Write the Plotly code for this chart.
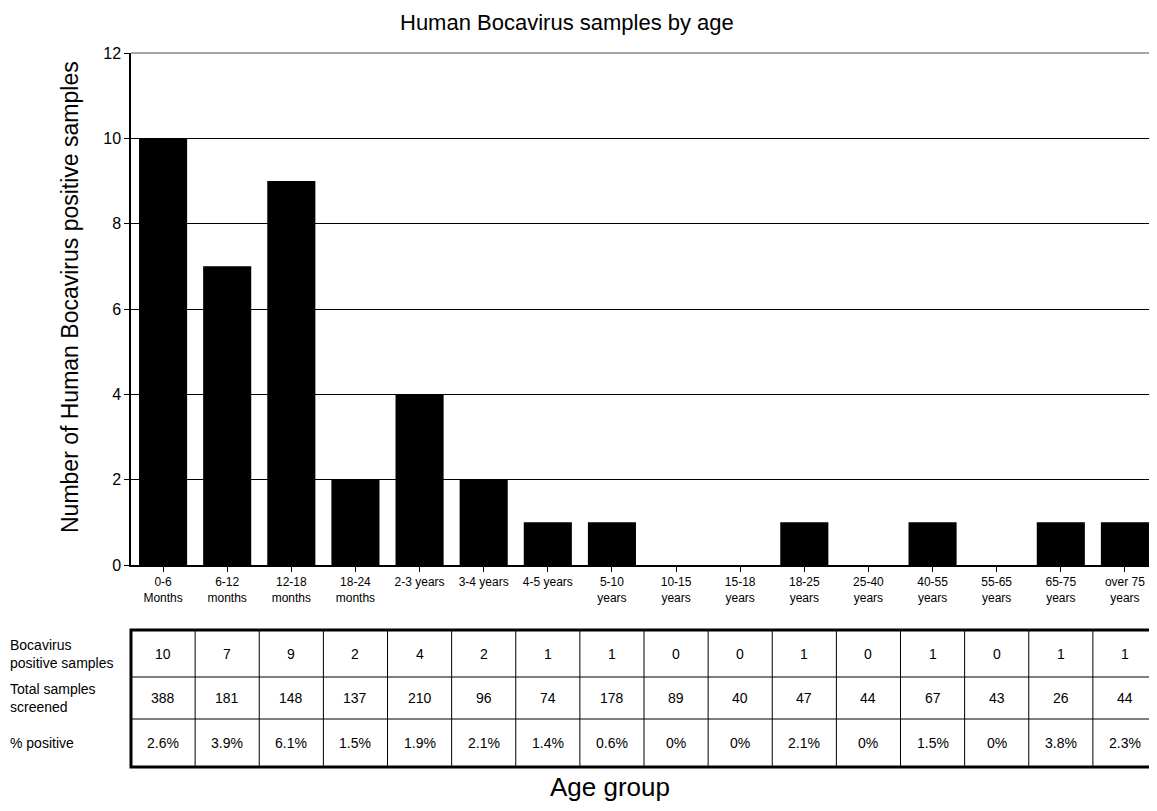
import plotly.graph_objects as go

age_groups = ["0-6<br>Months", "6-12<br>months", "12-18<br>months", "18-24<br>months",
              "2-3 years", "3-4 years", "4-5 years", "5-10<br>years", "10-15<br>years",
              "15-18<br>years", "18-25<br>years", "25-40<br>years", "40-55<br>years",
              "55-65<br>years", "65-75<br>years", "over 75<br>years"]
positive = [10, 7, 9, 2, 4, 2, 1, 1, 0, 0, 1, 0, 1, 0, 1, 1]
total = [388, 181, 148, 137, 210, 96, 74, 178, 89, 40, 47, 44, 67, 43, 26, 44]
pct_positive = ["2.6%", "3.9%", "6.1%", "1.5%", "1.9%", "2.1%", "1.4%", "0.6%",
                "0%", "0%", "2.1%", "0%", "1.5%", "0%", "3.8%", "2.3%"]
row_labels = ["Bocavirus<br>positive samples", "Total samples<br>screened", "% positive"]
y_ticks = [0, 2, 4, 6, 8, 10, 12]

OFF = 8  # page body margin
W, H = 1149, 795
ML, MR = 131 - OFF, 0
MT = 53 - OFF
MB = H - (565 - OFF)
plot_h = H - MT - MB
plot_w = W - ML - MR

def py(ypage):
    return (H - MB - (ypage - OFF)) / plot_h

def px(xpage):
    return ((xpage - OFF) - ML) / plot_w

FONT = "Liberation Sans, Arial, sans-serif"

fig = go.Figure(go.Bar(x=list(range(len(age_groups))), y=positive,
                       marker=dict(color="black", line=dict(width=0)),
                       width=0.75, showlegend=False))

n = len(age_groups)
shapes = []
annotations = []
row_edges = [630, 677, 719, 767]
rows = [[str(v) for v in positive], [str(v) for v in total], pct_positive]
for r in range(1, 3):
    shapes.append(dict(type="line", xref="paper", yref="paper", x0=0, x1=1,
                       y0=py(row_edges[r]), y1=py(row_edges[r]), line=dict(color="black", width=1)))
for c in range(1, n):
    shapes.append(dict(type="line", xref="paper", yref="paper", x0=c / n, x1=c / n,
                       y0=py(row_edges[0]), y1=py(row_edges[-1]), line=dict(color="black", width=1)))
shapes.append(dict(type="rect", xref="paper", yref="paper", x0=0, x1=0.998,
                   y0=py(row_edges[-1]), y1=py(row_edges[0]), line=dict(color="black", width=3)))
shapes.append(dict(type="line", xref="paper", yref="paper", x0=0, x1=1, y0=1, y1=1,
                   line=dict(color="#888888", width=1.5)))

for r, vals in enumerate(rows):
    yc = py((row_edges[r] + row_edges[r + 1]) / 2)
    for c, v in enumerate(vals):
        annotations.append(dict(text=v, xref="paper", yref="paper", x=(c + 0.5) / n, y=yc,
                                showarrow=False, xanchor="center", yanchor="middle",
                                font=dict(family=FONT, size=14, color="black")))
    annotations.append(dict(text=row_labels[r], xref="paper", yref="paper",
                            x=px(8), y=yc, showarrow=False,
                            xanchor="left", yanchor="middle", align="left",
                            font=dict(family=FONT, size=14, color="black")))

annotations.append(dict(text="Age group", xref="paper", yref="paper",
                        x=px(610), y=py(787), showarrow=False,
                        xanchor="center", yanchor="middle",
                        font=dict(family=FONT, size=26, color="black")))
annotations.append(dict(text="Number of Human Bocavirus positive samples", xref="paper", yref="paper",
                        x=px(70), y=py(297), showarrow=False, textangle=-90,
                        xanchor="center", yanchor="middle",
                        font=dict(family=FONT, size=23, color="black")))
annotations.append(dict(text="Human Bocavirus samples by age", xref="paper", yref="paper",
                        x=px(567), y=py(22), showarrow=False,
                        xanchor="center", yanchor="middle",
                        font=dict(family=FONT, size=22, color="black")))

fig.update_layout(
    width=W, height=H,
    margin=dict(l=ML, r=MR, t=MT, b=MB),
    paper_bgcolor="white", plot_bgcolor="white",
    bargap=0.25,
    shapes=shapes,
    annotations=annotations,
    font=dict(family=FONT, color="black"),
)
fig.update_xaxes(tickmode="array", tickvals=list(range(n)), ticktext=age_groups,
                 range=[-0.5, n - 0.5], showline=True, linecolor="black", linewidth=1.5,
                 ticks="outside", tickson="boundaries", ticklen=5, tickcolor="black",
                 showgrid=False, tickfont=dict(family=FONT, size=12, color="black"),
                 tickangle=0)
fig.update_yaxes(range=[0, 12], tickvals=y_ticks, showline=True, linecolor="black", linewidth=1.5,
                 ticks="outside", ticklen=5, tickcolor="black", showgrid=True,
                 gridcolor="black", gridwidth=1, zeroline=False,
                 tickfont=dict(family=FONT, size=16, color="black"))

fig.write_html("out.html")
